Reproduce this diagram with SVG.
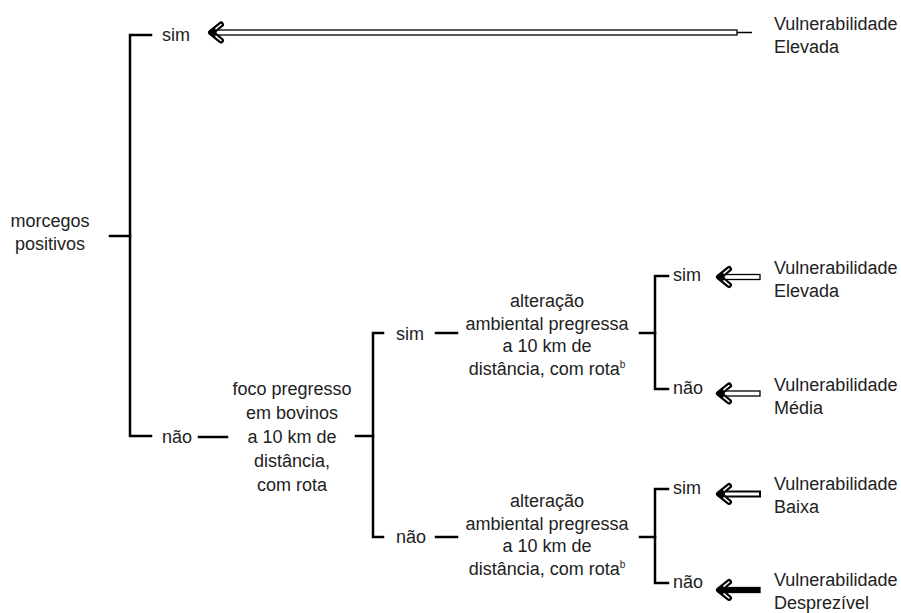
<svg xmlns="http://www.w3.org/2000/svg" xmlns:xlink="http://www.w3.org/1999/xlink" width="901" height="613" viewBox="0 0 901 613">
<style>
  text { font-family: "Liberation Sans", Arial, sans-serif; font-size: 18px; fill: #222; }
  .c { text-anchor: middle; }
  .ln { stroke: #000; stroke-width: 2.5; fill: none; stroke-linecap: square; }
  .thin { stroke: #000; stroke-width: 1.5; fill: none; }
  .hb { stroke: #000; stroke-width: 6; fill: none; stroke-linecap: round; stroke-linejoin: round; }
  .hw { stroke: #fff; stroke-width: 1.6; fill: none; stroke-linecap: round; }
  .sh-w { fill: #fff; stroke: #000; stroke-width: 1.3; }
  .sh-g { fill: #fff; stroke: #000; stroke-width: 2; }
  .sh-b { fill: #000; stroke: #000; stroke-width: 1.3; }
  .sup { font-size: 10px; }
</style>
<defs>
  <g id="ahead">
    <path d="M12,-8 L2,0 L12,8" class="hb"/>
    <path d="M12,-8 L7,-3.8 M12,8 L7,3.8" class="hw"/>
  </g>
</defs>

<g id="connectors">
  <!-- root bracket -->
  <path class="ln" d="M151,35 H130 V436 H151"/>
  <path class="ln" d="M110,236 H130"/>
  <path class="ln" d="M199,437 H227"/>
  <!-- foco bracket -->
  <path class="ln" d="M356,436 H373"/>
  <path class="ln" d="M383,333 H373 V537 H383"/>
  <path class="ln" d="M436,333 H457"/>
  <path class="ln" d="M436,537 H457"/>
  <!-- right brackets -->
  <path class="ln" d="M640,333 H655"/>
  <path class="ln" d="M668,276 H655 V389 H668"/>
  <path class="ln" d="M640,537 H655"/>
  <path class="ln" d="M668,489 H655 V583 H668"/>
  <!-- arrows -->
  <g id="arrow-top">
    <rect class="sh-w" x="216" y="30" width="521" height="5"/>
    <path class="thin" d="M737,32.5 H752"/>
    <use xlink:href="#ahead" transform="translate(209,32.5)"/>
  </g>
  <g id="arrow-elevada">
    <rect class="sh-w" x="724" y="274.5" width="36" height="5"/>
    <use xlink:href="#ahead" transform="translate(717,277)"/>
  </g>
  <g id="arrow-media">
    <rect class="sh-w" x="724" y="391" width="36" height="5"/>
    <use xlink:href="#ahead" transform="translate(717,393.5)"/>
  </g>
  <g id="arrow-baixa">
    <rect class="sh-g" x="724" y="491.5" width="36" height="5"/>
    <use xlink:href="#ahead" transform="translate(717,494)"/>
  </g>
  <g id="arrow-desprezivel">
    <rect class="sh-b" x="724" y="587.5" width="36" height="5"/>
    <use xlink:href="#ahead" transform="translate(717,590)"/>
  </g>
</g>

<g id="n-morcegos">
  <text class="c" x="50" y="227">morcegos</text>
  <text class="c" x="50" y="250">positivos</text>
</g>
<g id="n-sim-top"><text x="162" y="41">sim</text></g>
<g id="n-nao-left"><text x="162" y="443">não</text></g>
<g id="n-foco">
  <text class="c" x="292" y="395">foco pregresso</text>
  <text class="c" x="292" y="419">em bovinos</text>
  <text class="c" x="292" y="443">a 10 km de</text>
  <text class="c" x="292" y="467">distância,</text>
  <text class="c" x="292" y="491">com rota</text>
</g>
<g id="n-sim-mid"><text x="396" y="340">sim</text></g>
<g id="n-nao-mid"><text x="396" y="543">não</text></g>
<g id="n-alteracao-1">
  <text class="c" x="547" y="307">alteração</text>
  <text class="c" x="547" y="330">ambiental pregressa</text>
  <text class="c" x="547" y="352">a 10 km de</text>
  <text class="c" x="547" y="375">distância, com rota<tspan class="sup" dy="-7">b</tspan></text>
</g>
<g id="n-alteracao-2">
  <text class="c" x="547" y="507">alteração</text>
  <text class="c" x="547" y="530">ambiental pregressa</text>
  <text class="c" x="547" y="552">a 10 km de</text>
  <text class="c" x="547" y="575">distância, com rota<tspan class="sup" dy="-7">b</tspan></text>
</g>
<g id="n-sim-1"><text x="673" y="281">sim</text></g>
<g id="n-nao-1"><text x="673" y="394">não</text></g>
<g id="n-sim-2"><text x="673" y="494">sim</text></g>
<g id="n-nao-2"><text x="673" y="588">não</text></g>
<g id="n-vuln-top">
  <text x="774" y="30">Vulnerabilidade</text>
  <text x="774" y="53">Elevada</text>
</g>
<g id="n-vuln-elevada">
  <text x="774" y="274">Vulnerabilidade</text>
  <text x="774" y="297">Elevada</text>
</g>
<g id="n-vuln-media">
  <text x="774" y="391">Vulnerabilidade</text>
  <text x="774" y="414">Média</text>
</g>
<g id="n-vuln-baixa">
  <text x="774" y="490">Vulnerabilidade</text>
  <text x="774" y="513">Baixa</text>
</g>
<g id="n-vuln-desprezivel">
  <text x="774" y="586">Vulnerabilidade</text>
  <text x="774" y="609">Desprezível</text>
</g>
</svg>
